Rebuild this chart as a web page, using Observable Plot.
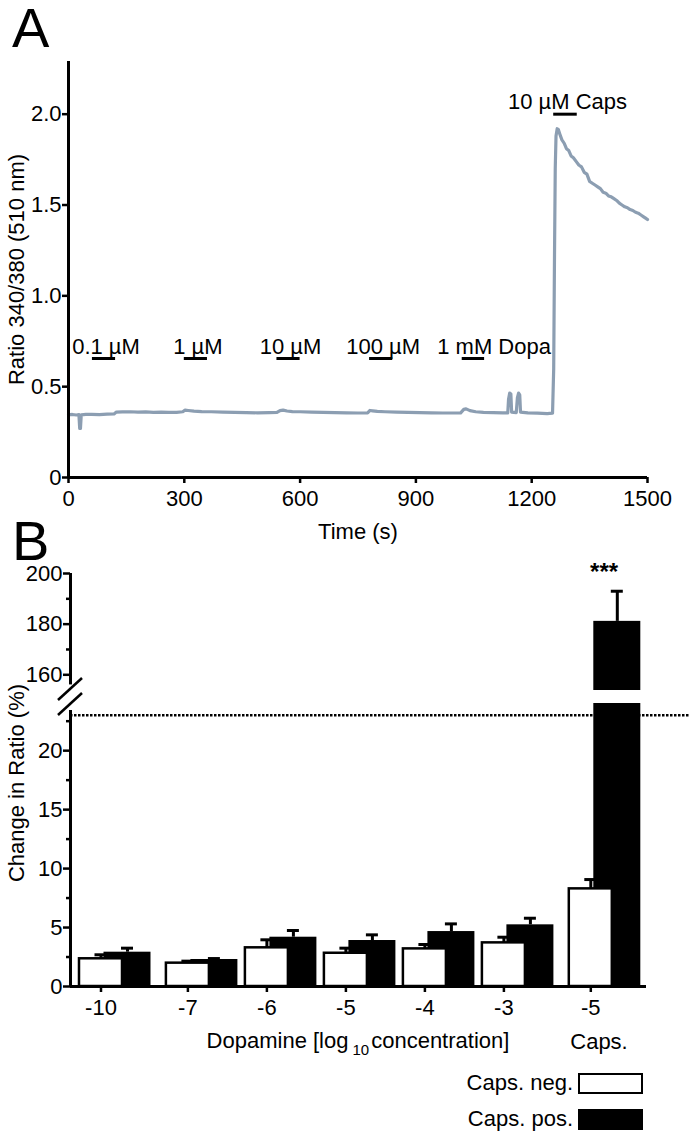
<!DOCTYPE html>
<html><head><meta charset="utf-8">
<script src="https://cdn.jsdelivr.net/npm/d3@7"></script>
<script src="https://cdn.jsdelivr.net/npm/@observablehq/plot@0.6"></script>
<style>
body{margin:0;background:#fff;}
#fig{position:relative;width:695px;height:1137px;background:#fff;font-family:"Liberation Sans",Arial,sans-serif;color:#000;overflow:hidden;}
#fig svg{position:absolute;left:0;}
.lbl{position:absolute;white-space:nowrap;font-size:22px;line-height:22px;}
</style></head><body><div id="fig"></div>
<script>
// ---------- Panel A data ----------
const traceTime = [0,10,20,27,29,31,33,45,60,80,100,118,124,140,160,180,200,220,240,260,280,296,302,310,325,345,370,400,430,460,490,520,540,548,556,566,580,600,630,660,690,720,750,775,781,788,800,820,850,880,910,940,970,1000,1016,1024,1030,1040,1055,1075,1100,1125,1138,1140,1143,1146,1148,1160,1163,1166,1169,1171,1190,1215,1240,1254,1257,1259,1261,1263,1266,1269,1273,1278,1284,1290,1296,1302,1308,1315,1322,1329,1336,1343,1350,1357,1364,1371,1378,1385,1392,1399,1406,1413,1420,1427,1434,1441,1448,1455,1462,1469,1476,1483,1490,1497,1500];
const traceRatio = [0.345,0.347,0.344,0.346,0.27,0.27,0.345,0.347,0.348,0.346,0.349,0.350,0.360,0.361,0.362,0.360,0.361,0.359,0.360,0.358,0.359,0.362,0.371,0.369,0.365,0.363,0.362,0.360,0.359,0.357,0.356,0.357,0.358,0.368,0.371,0.366,0.363,0.362,0.360,0.358,0.357,0.356,0.355,0.356,0.369,0.367,0.364,0.362,0.360,0.358,0.357,0.356,0.355,0.355,0.356,0.375,0.378,0.368,0.362,0.359,0.357,0.356,0.356,0.43,0.465,0.46,0.36,0.357,0.44,0.465,0.455,0.36,0.356,0.354,0.352,0.354,0.60,1.20,1.70,1.88,1.92,1.915,1.89,1.86,1.84,1.81,1.80,1.77,1.76,1.74,1.72,1.71,1.68,1.67,1.63,1.62,1.61,1.60,1.59,1.57,1.565,1.55,1.545,1.535,1.525,1.51,1.50,1.49,1.485,1.475,1.47,1.46,1.455,1.445,1.435,1.425,1.42];
const stimLabels = ["0.1 µM","1 µM","10 µM","100 µM","1 mM Dopa","10 µM Caps"];
const stimStart = [62,300,540,780,1020,1257];
const stimEnd = [122,360,600,840,1078,1318];
const stimLevel = [0.655,0.655,0.655,0.655,0.655,2.0];
const timeTicks = [0,300,600,900,1200,1500];
const ratioTicks = [0,0.5,1,1.5,2];

// ---------- Panel B data ----------
const groupLabels = ["-10","-7","-6","-5","-4","-3","-5"];
const negMean = [2.35,1.98,3.28,2.82,3.19,3.70,8.28];
const negSEM  = [0.34,0.17,0.68,0.43,0.37,0.48,0.79];
const posMean = [2.91,2.29,4.18,3.90,4.66,5.23,181.1];
const posSEM  = [0.34,0.08,0.57,0.48,0.65,0.56,11.9];
const signif  = ["","","","","","","***"];
const lowerTicks = [0,5,10,15,20];
const lowerMinor = [2.5,7.5,12.5,17.5,22.5];
const upperTicks = [160,180,200];
const upperMinor = [170,190];
const refLine = 23;

const font = '"Liberation Sans", Arial, sans-serif';
const fig = document.getElementById("fig");

// ---------- Panel A ----------
const trace = traceTime.map((t,i)=>({t, r: traceRatio[i]}));
const stim = stimLabels.map((label,i)=>({label, x1: stimStart[i], x2: stimEnd[i], y: stimLevel[i]}));
const plotA = Plot.plot({
  width:695, height:545, marginLeft:68, marginRight:48, marginTop:61, marginBottom:68,
  style:{fontFamily:font, fontSize:"22px", background:"transparent", overflow:"visible"},
  x:{domain:[0,1500]}, y:{domain:[0,2.29]},
  marks:[
    Plot.line(trace,{x:"t",y:"r",stroke:"#8c9eb2",strokeWidth:3.2,strokeLinejoin:"round"}),
    Plot.ruleY(stim,{x1:"x1",x2:"x2",y:"y",stroke:"#000",strokeWidth:3}),
    Plot.text(stim.filter(d=>!d.label.includes("Dopa")),{x:d=>(d.x1+d.x2)/2,y:"y",text:"label",dy:-12,dx:2,fontSize:22,lineAnchor:"middle"}),
    Plot.text(stim.filter(d=>d.label.includes("Dopa")),{x:"x1",y:"y",text:"label",textAnchor:"start",dx:-25,dy:-12,fontSize:22,lineAnchor:"middle"}),
    Plot.ruleX([0],{stroke:"#000",strokeWidth:3}),
    Plot.ruleY([0],{stroke:"#000",strokeWidth:3}),
    Plot.axisX(timeTicks,{tickSize:6,tickPadding:7,strokeWidth:2.5,label:null,fontSize:22,tickFormat:d=>String(d)}),
    Plot.axisY(ratioTicks,{tickSize:6,tickPadding:1,strokeWidth:2.5,label:null,fontSize:22,tickFormat:d=>d===0?"0":d.toFixed(1)}),
    Plot.text(["Time (s)"],{frameAnchor:"bottom",dy:54,fontSize:22,lineAnchor:"middle",textAnchor:"middle"}),
    Plot.text(["Ratio 340/380 (510 nm)"],{frameAnchor:"left",rotate:-90,dx:-52,fontSize:22,textAnchor:"middle",lineAnchor:"middle"})
  ]
});
plotA.style.top = "0px";
fig.appendChild(plotA);

// ---------- Panel B ----------
const gap = 0.1;
const posOf = i => i + (i>=1?gap:0) + (i>=6?gap:0);
const bars = groupLabels.map((g,i)=>({label:g, p:posOf(i), neg:negMean[i], negE:negSEM[i], pos:posMean[i], posE:posSEM[i], sig:signif[i]}));
const xDomain = [-0.386, 6.905];
const pxU = 79;            // px per x unit (for bar widths only)
const wW = 21.5/pxU, bW = 23.5/pxU, off = 26.5/pxU, cap = 6/pxU;

function barMarks(){
  return [
    Plot.rect(bars,{x1:d=>d.p+off-bW,x2:d=>d.p+off+bW,y1:0,y2:"pos",fill:"#000",clip:true}),
    Plot.ruleX(bars,{x:d=>d.p+off,y1:"pos",y2:d=>d.pos+d.posE,stroke:"#000",strokeWidth:3,clip:true}),
    Plot.ruleY(bars,{x1:d=>d.p+off-cap,x2:d=>d.p+off+cap,y:d=>d.pos+d.posE,stroke:"#000",strokeWidth:3,clip:true}),
    Plot.rect(bars,{x1:d=>d.p-wW,x2:d=>d.p+wW,y1:0,y2:"neg",fill:"#fff",stroke:"#000",strokeWidth:2.5,clip:true}),
    Plot.ruleX(bars,{x:"p",y1:"neg",y2:d=>d.neg+d.negE,stroke:"#000",strokeWidth:3,clip:true}),
    Plot.ruleY(bars,{x1:d=>d.p-cap,x2:d=>d.p+cap,y:d=>d.neg+d.negE,stroke:"#000",strokeWidth:3,clip:true})
  ];
}

const upper = Plot.plot({
  width:695, height:145, marginLeft:70, marginRight:49, marginTop:23, marginBottom:5,
  style:{fontFamily:font, fontSize:"22px", background:"transparent", overflow:"visible"},
  x:{domain:xDomain, axis:null}, y:{domain:[153.8,200]},
  marks:[
    ...barMarks(),
    Plot.text(bars.filter(d=>d.sig),{x:d=>d.p+off/2,y:d=>d.pos+d.posE,text:"sig",dy:-19,fontSize:24,fontWeight:"bold",lineAnchor:"middle"}),
    Plot.ruleX([xDomain[0]],{y1:156,y2:200,stroke:"#000",strokeWidth:3}),
    Plot.axisY(upperTicks,{tickSize:7,tickPadding:1,strokeWidth:2.5,label:null,fontSize:22}),
    Plot.axisY(upperMinor,{tickSize:4,strokeWidth:2.5,label:null,tickFormat:()=>""})
  ]
});
upper.style.top = "550px";
fig.appendChild(upper);

const tickMap = new Map(bars.map(d=>[d.p,d.label]));
const breakMark = (index, scales, values, dims) => {
  const g = d3.create("svg:g").attr("stroke","#000").attr("stroke-width",2.5);
  const x0 = dims.marginLeft, yTop = dims.marginTop;
  for (const c of [-14, 1]) {
    g.append("line").attr("x1",x0-12).attr("y1",yTop+c+11).attr("x2",x0+12).attr("y2",yTop+c-11);
  }
  return g.node();
};
const lower = Plot.plot({
  width:695, height:330, marginLeft:70, marginRight:49, marginTop:8, marginBottom:39,
  style:{fontFamily:font, fontSize:"22px", background:"transparent", overflow:"visible"},
  x:{domain:xDomain}, y:{domain:[0,24]},
  marks:[
    Plot.ruleY([refLine],{x1:xDomain[0],x2:xDomain[1]+0.557,stroke:"#000",strokeWidth:2.5,strokeDasharray:"2.5,1.5"}),
    ...barMarks(),
    Plot.ruleX([xDomain[0]],{y1:0,y2:23.4,stroke:"#000",strokeWidth:3}),
    Plot.ruleY([0],{stroke:"#000",strokeWidth:3}),
    Plot.axisY(lowerTicks,{tickSize:7,tickPadding:1,strokeWidth:2.5,label:null,fontSize:22}),
    Plot.axisY(lowerMinor,{tickSize:4,strokeWidth:2.5,label:null,tickFormat:()=>""}),
    Plot.axisX(bars.map(d=>d.p),{tickSize:6,tickPadding:7,strokeWidth:2.5,label:null,fontSize:22,tickFormat:d=>tickMap.get(d)}),
    breakMark
  ]
});
lower.style.top = "695px";
fig.appendChild(lower);

// ---------- HTML labels ----------
function addLabel(html, css){
  const d = document.createElement("div");
  d.className = "lbl"; d.innerHTML = html;
  Object.assign(d.style, css);
  fig.appendChild(d);
  return d;
}
addLabel("A",{left:"12px",top:"8px",fontSize:"56px",lineHeight:"40px"});
addLabel("B",{left:"12px",top:"521px",fontSize:"56px",lineHeight:"40px"});
addLabel("Change in Ratio (%)",{left:"17px",top:"783px",transform:"translate(-50%,-50%) rotate(-90deg)"});
addLabel('Dopamine [log<span style="font-size:15px;position:relative;top:7px;margin:0 2px 0 4px">10</span>concentration]',{left:"358px",top:"1042px",transform:"translate(-50%,-50%)"});
addLabel("Caps.",{left:"599px",top:"1042px",transform:"translate(-50%,-50%)"});
addLabel("Caps. neg.",{right:"122px",top:"1072px"});
addLabel("Caps. pos.",{right:"122px",top:"1108px"});
const box1 = document.createElement("div");
Object.assign(box1.style,{position:"absolute",left:"578px",top:"1073px",width:"65px",height:"21px",border:"2px solid #000",boxSizing:"border-box",background:"#fff"});
fig.appendChild(box1);
const box2 = document.createElement("div");
Object.assign(box2.style,{position:"absolute",left:"578px",top:"1109px",width:"65px",height:"21px",background:"#000"});
fig.appendChild(box2);
</script></body></html>
